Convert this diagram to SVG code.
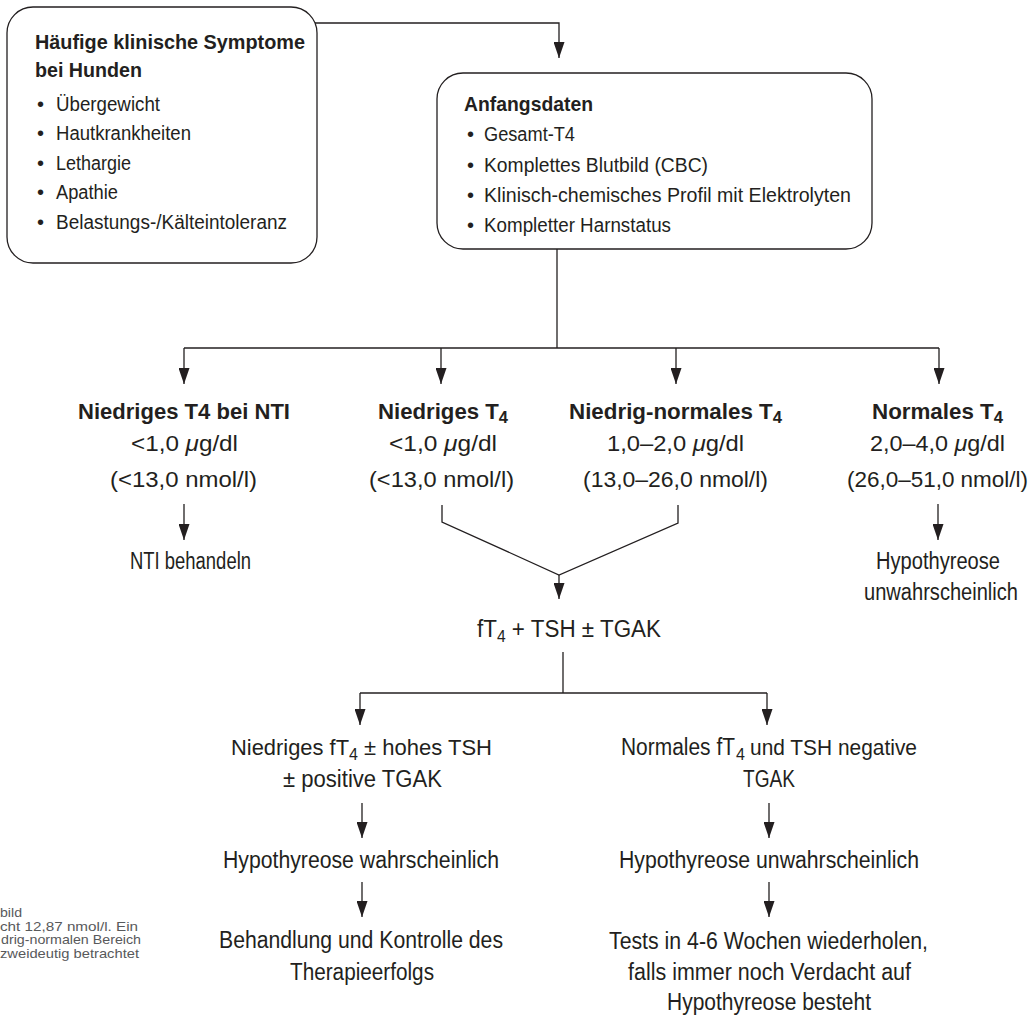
<svg xmlns="http://www.w3.org/2000/svg" width="1032" height="1020" viewBox="0 0 1032 1020">
<defs>
<style>
.t{font-family:"Liberation Sans",Arial,sans-serif;fill:#231f20;font-size:23px}
.bt{font-size:20.5px;font-weight:bold}
.bi{font-size:20px}
.h{font-size:21.5px;font-weight:bold}
.v{font-size:21.5px}
.sub{font-size:16px}
.m{font-size:22px}
.fn{font-family:"Liberation Sans",Arial,sans-serif;font-size:13px;fill:#58595b}
.mu{font-style:italic}
.ln{fill:none;stroke:#231f20;stroke-width:1.3}
.bx{fill:#fff;stroke:#231f20;stroke-width:1.3}
</style>
<marker id="ah" viewBox="0 0 16 11" markerUnits="userSpaceOnUse" markerWidth="16" markerHeight="11" refX="16" refY="5.5" orient="auto"><path d="M0,0 L16,5.5 L0,11 z" fill="#231f20"/></marker>
</defs>
<rect width="1032" height="1020" fill="#fff"/>

<g id="connectors" class="ln">
<path d="M315,23 H559 V58" marker-end="url(#ah)"/>
<path d="M557,249 V348"/>
<path d="M184,348 H939"/>
<path d="M184,348 V384" marker-end="url(#ah)"/>
<path d="M441,348 V384" marker-end="url(#ah)"/>
<path d="M676,348 V384" marker-end="url(#ah)"/>
<path d="M939,348 V384" marker-end="url(#ah)"/>
<path d="M184,504 V540" marker-end="url(#ah)"/>
<path d="M938,504 V540" marker-end="url(#ah)"/>
<path d="M442,505 V522 L559,575 L678,523 V505"/>
<path d="M559,575 V599" marker-end="url(#ah)"/>
<path d="M563,652 V693"/>
<path d="M360,693 H767"/>
<path d="M360,693 V725" marker-end="url(#ah)"/>
<path d="M767,693 V725" marker-end="url(#ah)"/>
<path d="M362,803 V838" marker-end="url(#ah)"/>
<path d="M362,882 V917" marker-end="url(#ah)"/>
<path d="M769,803 V838" marker-end="url(#ah)"/>
<path d="M769,882 V917" marker-end="url(#ah)"/>
</g>

<g id="n-symptome">
<rect class="bx" x="7" y="7" width="310" height="256" rx="26"/>
<text class="t bt" x="35" y="49" textLength="270" lengthAdjust="spacingAndGlyphs">Häufige klinische Symptome</text>
<text class="t bt" x="35" y="77" textLength="107" lengthAdjust="spacingAndGlyphs">bei Hunden</text>
<text class="t bi" x="37" y="111">•</text><text class="t bi" x="56" y="111" textLength="104" lengthAdjust="spacingAndGlyphs">Übergewicht</text>
<text class="t bi" x="37" y="140">•</text><text class="t bi" x="56" y="140" textLength="135" lengthAdjust="spacingAndGlyphs">Hautkrankheiten</text>
<text class="t bi" x="37" y="170">•</text><text class="t bi" x="56" y="170" textLength="75" lengthAdjust="spacingAndGlyphs">Lethargie</text>
<text class="t bi" x="37" y="199">•</text><text class="t bi" x="56" y="199" textLength="62" lengthAdjust="spacingAndGlyphs">Apathie</text>
<text class="t bi" x="37" y="229">•</text><text class="t bi" x="56" y="229" textLength="231" lengthAdjust="spacingAndGlyphs">Belastungs-/Kälteintoleranz</text>
</g>

<g id="n-anfangsdaten">
<rect class="bx" x="437" y="73" width="435" height="176" rx="26"/>
<text class="t bt" x="464" y="111" textLength="129" lengthAdjust="spacingAndGlyphs">Anfangsdaten</text>
<text class="t bi" x="467" y="141">•</text><text class="t bi" x="484" y="141" textLength="91" lengthAdjust="spacingAndGlyphs">Gesamt-T4</text>
<text class="t bi" x="467" y="172">•</text><text class="t bi" x="484" y="172" textLength="224" lengthAdjust="spacingAndGlyphs">Komplettes Blutbild (CBC)</text>
<text class="t bi" x="467" y="202">•</text><text class="t bi" x="484" y="202" textLength="367" lengthAdjust="spacingAndGlyphs">Klinisch-chemisches Profil mit Elektrolyten</text>
<text class="t bi" x="467" y="232">•</text><text class="t bi" x="484" y="232" textLength="187" lengthAdjust="spacingAndGlyphs">Kompletter Harnstatus</text>
</g>

<g id="n-niedrig-nti">
<text class="t h" x="78" y="419" textLength="212" lengthAdjust="spacingAndGlyphs">Niedriges T4 bei NTI</text>
<text class="t v" x="131" y="451" textLength="107" lengthAdjust="spacingAndGlyphs">&lt;1,0 <tspan class="mu">μ</tspan>g/dl</text>
<text class="t v" x="110" y="487" textLength="147" lengthAdjust="spacingAndGlyphs">(&lt;13,0 nmol/l)</text>
</g>

<g id="n-nti-behandeln">
<text class="t" x="130" y="569" textLength="121" lengthAdjust="spacingAndGlyphs">NTI behandeln</text>
</g>

<g id="n-niedrig">
<text class="t h" x="378" y="419" textLength="130" lengthAdjust="spacingAndGlyphs">Niedriges T<tspan class="sub" baseline-shift="-4">4</tspan></text>
<text class="t v" x="389" y="451" textLength="108" lengthAdjust="spacingAndGlyphs">&lt;1,0 <tspan class="mu">μ</tspan>g/dl</text>
<text class="t v" x="369" y="487" textLength="145" lengthAdjust="spacingAndGlyphs">(&lt;13,0 nmol/l)</text>
</g>

<g id="n-niedrig-normal">
<text class="t h" x="569" y="419" textLength="213" lengthAdjust="spacingAndGlyphs">Niedrig-normales T<tspan class="sub" baseline-shift="-4">4</tspan></text>
<text class="t v" x="607" y="451" textLength="137" lengthAdjust="spacingAndGlyphs">1,0–2,0 <tspan class="mu">μ</tspan>g/dl</text>
<text class="t v" x="583" y="487" textLength="185" lengthAdjust="spacingAndGlyphs">(13,0–26,0 nmol/l)</text>
</g>

<g id="n-normal">
<text class="t h" x="872" y="419" textLength="131" lengthAdjust="spacingAndGlyphs">Normales T<tspan class="sub" baseline-shift="-4">4</tspan></text>
<text class="t v" x="870" y="451" textLength="135" lengthAdjust="spacingAndGlyphs">2,0–4,0 <tspan class="mu">μ</tspan>g/dl</text>
<text class="t v" x="847" y="487" textLength="181" lengthAdjust="spacingAndGlyphs">(26,0–51,0 nmol/l)</text>
</g>

<g id="n-unwahrscheinlich-1">
<text class="t" x="876" y="569" textLength="124" lengthAdjust="spacingAndGlyphs">Hypothyreose</text>
<text class="t" x="864" y="600" font-size="19.5" textLength="154" lengthAdjust="spacingAndGlyphs">unwahrscheinlich</text>
</g>

<g id="n-ft4-tsh">
<text class="t" x="477" y="637" textLength="184" lengthAdjust="spacingAndGlyphs">fT<tspan class="sub" font-size="17" baseline-shift="-5">4</tspan> + TSH ± TGAK</text>
</g>

<g id="n-niedriges-ft4">
<text class="t m" x="231" y="755" textLength="118" lengthAdjust="spacingAndGlyphs">Niedriges fT</text>
<text class="t sub" x="349" y="760">4</text>
<text class="t m" x="364" y="755" textLength="128" lengthAdjust="spacingAndGlyphs">± hohes TSH</text>
<text class="t" x="283" y="787" textLength="159" lengthAdjust="spacingAndGlyphs">± positive TGAK</text>
</g>

<g id="n-wahrscheinlich">
<text class="t" x="223" y="868" textLength="276" lengthAdjust="spacingAndGlyphs">Hypothyreose wahrscheinlich</text>
</g>

<g id="n-behandlung">
<text class="t" x="219" y="948" textLength="284" lengthAdjust="spacingAndGlyphs">Behandlung und Kontrolle des</text>
<text class="t" x="290" y="980" textLength="144" lengthAdjust="spacingAndGlyphs">Therapieerfolgs</text>
</g>

<g id="n-normales-ft4">
<text class="t" x="621" y="755" font-size="21" textLength="114" lengthAdjust="spacingAndGlyphs">Normales fT</text>
<text class="t sub" x="736" y="760">4</text>
<text class="t m" x="750" y="755" textLength="167" lengthAdjust="spacingAndGlyphs">und TSH negative</text>
<text class="t" x="743" y="787" textLength="52" lengthAdjust="spacingAndGlyphs">TGAK</text>
</g>

<g id="n-unwahrscheinlich-2">
<text class="t" x="619" y="868" textLength="300" lengthAdjust="spacingAndGlyphs">Hypothyreose unwahrscheinlich</text>
</g>

<g id="n-tests">
<text class="t" x="609" y="949" textLength="319" lengthAdjust="spacingAndGlyphs">Tests in 4-6 Wochen wiederholen,</text>
<text class="t" x="628" y="980" textLength="283" lengthAdjust="spacingAndGlyphs">falls immer noch Verdacht auf</text>
<text class="t" x="667" y="1010" textLength="204" lengthAdjust="spacingAndGlyphs">Hypothyreose besteht</text>
</g>

<g id="footnote">
<text class="fn" x="0" y="917" textLength="22" lengthAdjust="spacingAndGlyphs">bild</text>
<text class="fn" x="0" y="930.5" textLength="138" lengthAdjust="spacingAndGlyphs">cht 12,87 nmol/l. Ein</text>
<text class="fn" x="1" y="944" textLength="140" lengthAdjust="spacingAndGlyphs">drig-normalen Bereich</text>
<text class="fn" x="0" y="957.5" textLength="139" lengthAdjust="spacingAndGlyphs">zweideutig betrachtet</text>
</g>
</svg>
